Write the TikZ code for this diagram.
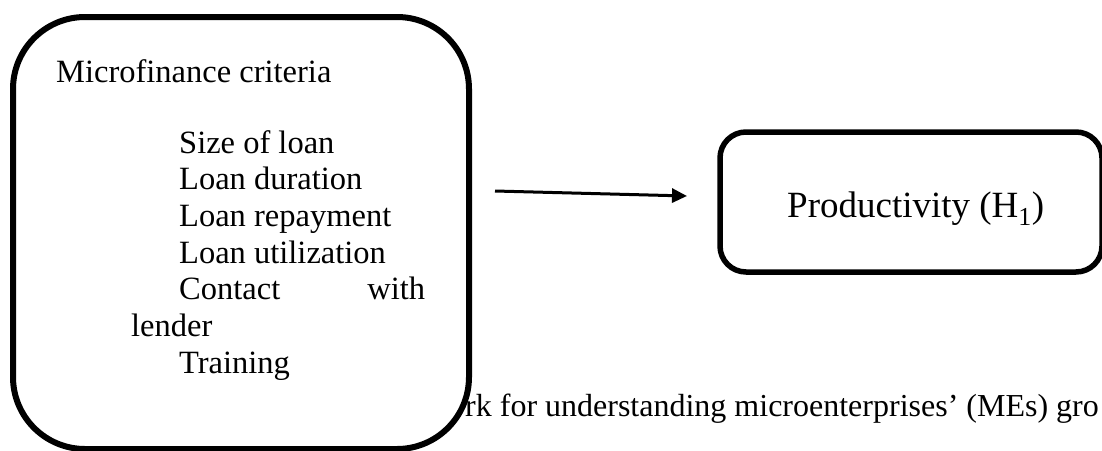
\documentclass[tikz,border=0pt]{standalone}
\usepackage{fontspec}
\setmainfont{Liberation Serif}
\usetikzlibrary{arrows.meta}
\begin{document}
\begin{tikzpicture}[x=1pt,y=1pt,
  boxstyle/.style={draw=black, line width=6pt, fill=white},
  bodytext/.style={anchor=base west, inner sep=0pt, font=\fontsize{32.5}{39}\selectfont},
  captext/.style={anchor=base west, inner sep=0pt, font=\fontsize{32}{38}\selectfont},
  bigtext/.style={anchor=base west, inner sep=0pt, font=\fontsize{37}{44}\selectfont},
  arrowstyle/.style={line width=3pt, -{Triangle[length=15pt,width=14pt]}}]
\useasboundingbox (0,0) rectangle (1102,-450);
% caption partly hidden behind the left box
\node[captext] (caption) at (465,-416) {rk for understanding microenterprises’ (MEs) gro};
% left box
\draw[boxstyle, rounded corners=72pt] (13,-17) rectangle (469,-449);
\node[bodytext] (title) at (56,-82) {Microfinance criteria};
\node[bodytext] (i1) at (179,-153) {Size of loan};
\node[bodytext] (i2) at (179,-189) {Loan duration};
\node[bodytext] (i3) at (179,-226) {Loan repayment};
\node[bodytext] (i4) at (179,-263) {Loan utilization};
\node[bodytext, text width=246pt] (i5) at (179,-299) {Contact\hfill with};
\node[bodytext] (i5b) at (131,-336) {lender};
\node[bodytext] (i6) at (179,-373) {Training};
% right box
\draw[boxstyle, line width=5.5pt, rounded corners=26pt] (720,-132) rectangle (1102,-272);
\node[bigtext] (prod) at (787,-217) {Productivity (H\textsubscript{1})};
% arrow
\coordinate (a1) at (495,-191);
\coordinate (a2) at (687,-196);
\draw[arrowstyle] (a1) -- (a2);
\end{tikzpicture}
\end{document}
